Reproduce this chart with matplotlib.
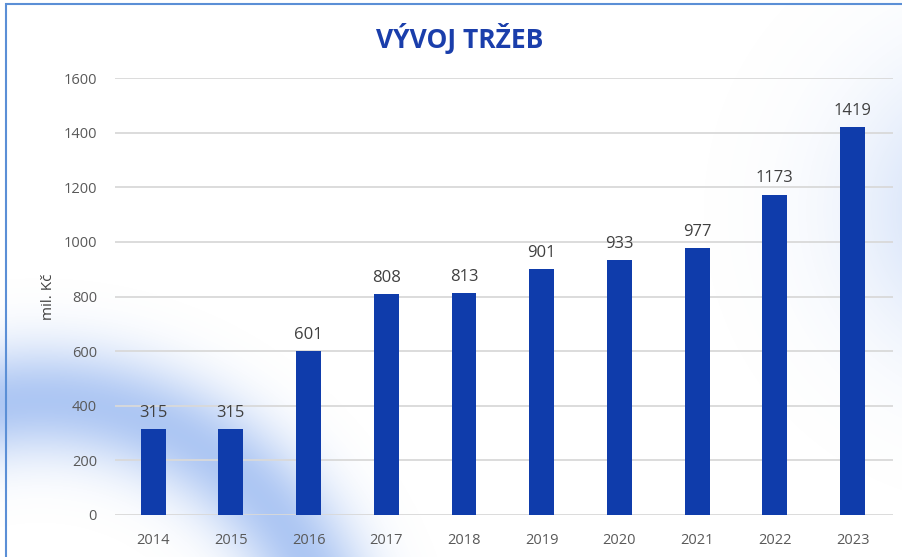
import numpy as np
import matplotlib
matplotlib.use("Agg")
import matplotlib.pyplot as plt
from matplotlib.patches import Rectangle

years = ["2014", "2015", "2016", "2017", "2018", "2019", "2020", "2021", "2022", "2023"]
revenue = [315, 315, 601, 808, 813, 901, 933, 977, 1173, 1419]
y_ticks = [0, 200, 400, 600, 800, 1000, 1200, 1400, 1600]
title = "VÝVOJ TRŽEB"
y_label = "mil. Kč"

plt.rcParams['font.family'] = ['Open Sans', 'DejaVu Sans']

W, H = 902, 557
fig = plt.figure(figsize=(W / 100, H / 100), dpi=100)
fig.patch.set_facecolor("white")

# decorative soft glow background
bg = fig.add_axes([0, 0, 1, 1], zorder=-2)
bg.set_axis_off()
yy, xx = np.mgrid[0:H, 0:W]
d1 = np.sqrt((xx - 40.0) ** 2 + (yy - 700.0) ** 2)
a1 = 0.55 * np.exp(-((d1 - 300.0) / 55.0) ** 2)
d2 = np.sqrt((xx - 1000.0) ** 2 + (yy - 210.0) ** 2)
a2 = 0.35 * np.exp(-(d2 / 140.0) ** 2)
alpha = np.clip(np.maximum(a1, a2), 0, 1)
img = np.zeros((H, W, 4))
img[..., 0] = 0.42
img[..., 1] = 0.60
img[..., 2] = 0.92
img[..., 3] = alpha
bg.imshow(img, extent=[0, W, H, 0], aspect="auto")
bg.set_xlim(0, W)
bg.set_ylim(H, 0)

# border
fig.patches.append(Rectangle((6 / W, -0.2), 1.2, 1.2 - 4 / H, transform=fig.transFigure,
                             fill=False, edgecolor="#5b8fd6", linewidth=1.5, zorder=-1))

ax = fig.add_axes([115 / W, 1 - 515 / H, 778 / W, 437 / H])
ax.set_facecolor("none")
x = np.arange(len(years))
ax.bar(x, revenue, width=0.32, color="#0f3cab", zorder=3)
ax.set_xlim(-0.49, 9.52)
ax.set_ylim(0, 1600)
ax.set_yticks(y_ticks)
ax.set_xticks(x)
ax.set_xticklabels(years)
ax.grid(axis="y", color="#d9d9d9", linewidth=1.3, zorder=0)
ax.set_axisbelow(True)
for s in ax.spines.values():
    s.set_visible(False)
ax.tick_params(axis="both", length=0, labelsize=10.5, colors="#595959")
ax.tick_params(axis="y", pad=13)
ax.tick_params(axis="x", pad=13)
for xi, v in zip(x, revenue):
    ax.annotate(str(v), (xi, v), xytext=(0, 6), textcoords="offset points",
                ha="center", va="bottom", fontsize=12, color="#404040")
ax.set_ylabel(y_label, fontsize=11, color="#404040", labelpad=5)

fig.text(460 / W, 1 - 38 / H, title, ha="center", va="center", fontsize=19,
         fontweight="bold", color="#1a3eab")

fig.savefig("out.png", dpi=100)
